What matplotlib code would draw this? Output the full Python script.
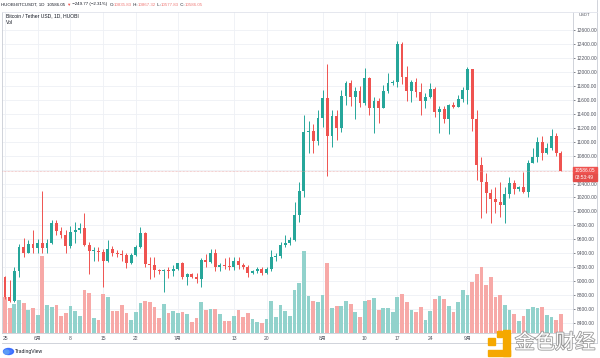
import matplotlib
matplotlib.use("Agg")
import matplotlib.pyplot as plt
import matplotlib.patheffects as pe
from matplotlib.patches import Rectangle, Ellipse
from matplotlib.lines import Line2D
import numpy as np
import pandas as pd

plt.rcParams['font.family'] = ['Liberation Sans', 'DejaVu Sans', 'Noto Sans CJK SC']

# ---------------- data (HUOBI:BTCUSDT, 1D) ----------------
start_date = '2020-05-25'
end_date = '2020-09-21'

opens = [9056, 8779, 8721, 9151, 9495, 9409, 9534, 9481, 9548, 9471,
         9548, 9830, 9720, 9658, 9505, 9706, 9729, 9763, 9519, 9433,
         9440, 9424, 9295, 9457, 9400, 9385, 9371, 9266, 9376, 9495,
         9696, 9247, 9233, 9161, 9147, 9166, 9147, 9170, 9256, 9056,
         9104, 9065, 9036, 9304, 9280, 9399, 9208, 9237, 9218, 9208,
         9289, 9227, 9198, 9122, 9151, 9175, 9112, 9170, 9342, 9361,
         9519, 9543, 9590, 9949, 10297, 11143, 11152, 11009, 11334, 11621,
         11081, 11368, 11200, 11654, 11836, 11645, 11726, 11559, 11907, 11487,
         11583, 11487, 11726, 11845, 11850, 12399, 11931, 11726, 11850, 11716,
         11583, 11645, 11755, 11420, 11468, 11320, 11525, 11501, 11611, 11740,
         12036, 11320, 10665, 10426, 10269, 10173, 10140, 10092, 10250, 10412,
         10317, 10355, 10283, 10689, 10785, 10999, 10842, 10904, 11081, 10836]

closes = [8779, 8721, 9151, 9495, 9409, 9534, 9481, 9548, 9471, 9548,
          9830, 9720, 9658, 9505, 9706, 9729, 9763, 9519, 9433, 9440,
          9424, 9295, 9457, 9400, 9385, 9371, 9266, 9376, 9495, 9696,
          9247, 9233, 9161, 9147, 9166, 9147, 9170, 9256, 9056, 9104,
          9065, 9036, 9304, 9280, 9399, 9208, 9237, 9218, 9208, 9289,
          9227, 9198, 9122, 9151, 9175, 9112, 9170, 9342, 9361, 9519,
          9543, 9590, 9949, 10297, 11143, 11152, 11009, 11334, 11621, 11081,
          11368, 11200, 11654, 11836, 11645, 11726, 11559, 11907, 11487, 11583,
          11487, 11726, 11845, 11850, 12399, 11931, 11726, 11850, 11716, 11583,
          11645, 11755, 11420, 11468, 11320, 11525, 11501, 11611, 11740, 12036,
          11320, 10665, 10426, 10269, 10173, 10140, 10092, 10250, 10412, 10317,
          10355, 10283, 10689, 10785, 10999, 10842, 10904, 11081, 10836, 10586.05]

highs = [9080, 9020, 9209, 9533, 9615, 9590, 9734, 9600, 10298, 9600,
         9877, 9874, 9770, 9734, 9790, 9854, 9830, 9983, 9560, 9490,
         9490, 9457, 9590, 9505, 9447, 9447, 9400, 9400, 9519, 9782,
         9700, 9352, 9342, 9170, 9170, 9209, 9233, 9266, 9280, 9113,
         9122, 9113, 9328, 9390, 9466, 9457, 9256, 9328, 9352, 9342,
         9342, 9256, 9232, 9160, 9208, 9208, 9199, 9447, 9400, 9566,
         9662, 9629, 10140, 10426, 11382, 11301, 11248, 11453, 11740, 12108,
         11453, 11453, 11740, 11874, 11883, 11778, 11797, 12051, 11931, 11645,
         11621, 11812, 11979, 11883, 12442, 12433, 12084, 11883, 11907, 11836,
         11692, 11836, 11788, 11511, 11511, 11540, 11573, 11668, 11778, 12075,
         12036, 11453, 10785, 10546, 10317, 10355, 10426, 10355, 10498, 10450,
         10364, 10570, 10737, 10904, 11062, 11081, 10976, 11176, 11119, 10867.32]

lows = [8740, 8705, 8700, 9056, 9342, 9400, 9400, 9400, 9400, 9400,
        9534, 9663, 9615, 9400, 9481, 9543, 9696, 9505, 9099, 9294,
        9294, 8913, 9280, 9360, 9352, 9294, 9185, 9242, 9362, 9481,
        9209, 9027, 9056, 9099, 8841, 9041, 9075, 9161, 9027, 8946,
        9041, 8979, 8912, 9208, 9266, 9151, 9151, 9175, 9160, 9160,
        9170, 9170, 9055, 9103, 9112, 9089, 9103, 9151, 9294, 9328,
        9495, 9519, 9580, 9853, 10200, 10832, 10832, 10952, 11215, 10508,
        10928, 11024, 11143, 11525, 11511, 11320, 11492, 11525, 11382, 11129,
        11262, 11477, 11692, 11812, 11778, 11826, 11587, 11573, 11645, 11382,
        11477, 11621, 11348, 11119, 11272, 11110, 11477, 11492, 11573, 11540,
        11157, 10450, 9901, 9982, 9829, 9982, 9925, 9839, 10188, 10250,
        10298, 10259, 10211, 10689, 10713, 10737, 10823, 10880, 10794, 10577.83]

# relative volume (no scale shown on the chart)
volumes = [36, 24.7, 29, 33, 29.7, 23, 24.7, 18, 77, 28,
           26, 27.7, 17.3, 19.7, 27.3, 22.3, 17, 43.3, 40.3, 14.7,
           13, 39, 35.7, 22.3, 22.3, 28.3, 20, 13, 21.3, 30,
           32.3, 31.3, 26.3, 14.7, 29, 20.3, 22, 20, 21.3, 19.5,
           10.7, 15.3, 31.3, 23, 24.3, 24.3, 18.7, 12.3, 12, 17,
           22.7, 15.7, 20, 14.3, 11, 10, 13.7, 32, 16.3, 28,
           22, 17.3, 43, 50.3, 82, 37, 32, 31, 38, 69.7,
           24.7, 27, 27, 32.3, 29, 21.3, 16.3, 32, 33, 35.3,
           23, 25.3, 25.3, 21.3, 36.3, 38.7, 31.3, 23, 20.7, 25.7,
           13, 22, 34, 37, 33.7, 27, 21.3, 31.3, 43, 38,
           50.7, 59, 66.3, 48, 56.3, 35.7, 38, 28, 23, 19,
           12, 17, 24, 25.7, 24.7, 26.3, 18, 15.7, 13, 19]

tick_dates = ['2020-05-25', '2020-06-01', '2020-06-08', '2020-06-15', '2020-06-22',
              '2020-07-01', '2020-07-13', '2020-07-20', '2020-08-01', '2020-08-10',
              '2020-08-17', '2020-08-24', '2020-09-01']
tick_labels = ['25', '6月', '8', '15', '22', '7月', '13', '20', '8月', '10', '17', '24', '9月']
price_ticks = [8400, 8600, 8800, 9000, 9200, 9400, 9600, 9800, 10000, 10200, 10400,
               10600, 10800, 11000, 11200, 11400, 11600, 11800, 12000, 12200, 12400, 12600]

last_price = 10586.05
header_parts = [('HUOBI:BTCUSDT, 1D  10586.05 ', '#131722'), ('▼', '#ef5350'),
                (' −249.77 (−2.31%)  ', '#131722'),
                ('O:', '#131722'), ('10835.83', '#ef7a77'), (' H:', '#131722'), ('10867.32', '#ef7a77'),
                (' L:', '#131722'), ('10577.83', '#ef7a77'), (' C:', '#131722'), ('10586.05', '#ef7a77')]

# ---------------- style ----------------
UP = '#26a69a'
DN = '#ef5350'
UP_V = '#92d2cc'
DN_V = '#f7a9a7'
GRID = '#eef0f5'
TXT = '#50535e'
W, H = 600, 358
XLIM = (-0.64, 121.6)
YLIM = (8258, 12858)

dates = pd.date_range(start_date, end_date, freq='D')
x = np.arange(len(dates))
o = np.array(opens, float); c = np.array(closes, float)
h = np.array(highs, float); l = np.array(lows, float)
v = np.array(volumes, float)
up = c >= o

fig = plt.figure(figsize=(6, 3.58), dpi=100)
rect = [2 / W, (H - 333) / H, 571 / W, 321 / H]

ax = fig.add_axes(rect)     # price scale + grid
axv = fig.add_axes(rect)    # volume
axc = fig.add_axes(rect)    # candles
for a, z in ((ax, 1), (axv, 2), (axc, 3)):
    a.set_zorder(z)
axv.axis('off')
axc.axis('off')

ax.set_xlim(*XLIM); ax.set_ylim(*YLIM)
axc.set_xlim(*XLIM); axc.set_ylim(*YLIM)
axv.set_xlim(*XLIM); axv.set_ylim(0, 321)

# grid and ticks
tick_pos = [dates.get_loc(pd.Timestamp(d)) for d in tick_dates]
ax.set_xticks(tick_pos)
ax.set_xticklabels(tick_labels)
ax.set_yticks(price_ticks)
ax.set_yticklabels([f'{p:.2f}' for p in price_ticks])
ax.yaxis.tick_right()
ax.grid(True, color=GRID, lw=0.6)
ax.tick_params(axis='x', labelsize=3.6, colors=TXT, length=0, pad=2.2)
ax.tick_params(axis='y', labelsize=3.5, colors=TXT, length=1.5, width=0.5, pad=1.0)
for s in ax.spines.values():
    s.set_color('#c9ccd4'); s.set_linewidth(0.6)
ax.spines['top'].set_color('#e0e3eb')

# volume
axv.bar(x, v, width=0.8, color=np.where(up, UP_V, DN_V), linewidth=0)

# candles
body_bottom = np.minimum(o, c)
body_h = np.maximum(np.abs(c - o), 14)
col = np.where(up, UP, DN)
axc.vlines(x, l, h, colors=col, lw=0.7)
axc.bar(x, body_h, bottom=body_bottom, width=0.62, color=col, linewidth=0)

# last price line
axc.axhline(last_price, color='#e8a4a3', lw=0.5, ls=(0, (1, 1)))

def fy(py):
    return 1 - py / H

# last price labels on the axis
fig.add_artist(Rectangle((573 / W, fy(174)), 24 / W, 6.5 / H, color=DN, transform=fig.transFigure, zorder=10))
fig.add_artist(Rectangle((573 / W, fy(180.5)), 24 / W, 6.5 / H, color='#e44d4a', transform=fig.transFigure, zorder=10))
fig.text(575 / W, fy(170.7), f'{last_price:.2f}', color='white', fontsize=3.5, va='center', ha='left', zorder=11)
fig.text(575 / W, fy(177.2), '03:53:49', color='white', fontsize=3.5, va='center', ha='left', zorder=11)

# frame lines
fig.add_artist(Line2D([597 / W, 597 / W], [fy(0), fy(343)], color='#c9ccd4', lw=0.6, transform=fig.transFigure))
fig.add_artist(Line2D([2 / W, 597 / W], [fy(343), fy(343)], color='#c9ccd4', lw=0.6, transform=fig.transFigure))
fig.add_artist(Line2D([573 / W, 597 / W], [fy(12), fy(12)], color='#e0e3eb', lw=0.6, transform=fig.transFigure))
fig.text(584 / W, fy(14.5), 'USDT', color=TXT, fontsize=3.0, va='center', ha='center')

# header
renderer = fig.canvas.get_renderer()
xp = 1.0
for s, colr in header_parts:
    t = fig.text(xp / W, fy(4.5), s, color=colr, fontsize=3.2, va='center', ha='left')
    xp += t.get_window_extent(renderer).width

# legend inside chart
fig.text(6 / W, fy(16), 'Bitcoin / Tether USD, 1D, HUOBI', color='#131722', fontsize=3.6, va='center', ha='left')
fig.text(6 / W, fy(23), 'Vol', color='#131722', fontsize=3.6, va='center', ha='left')

# TradingView logo
fig.add_artist(Ellipse((8.5 / W, fy(351.5)), 10 / W, 6 / H, color='#2962ff', transform=fig.transFigure, alpha=0.85))
fig.add_artist(Ellipse((6.5 / W, fy(352)), 5 / W, 4 / H, color='#5b9cf6', transform=fig.transFigure))
fig.text(14.5 / W, fy(351.5), 'TradingView', color='#131722', fontsize=3.6, va='center', ha='left')

# watermark
YEL = '#f5a800'
for (rx, ry, rw, rh) in [(503, 330, 7, 26), (488, 350, 22, 6), (488, 338, 7, 7), (496.5, 331, 5.5, 5.5)]:
    fig.add_artist(Rectangle((rx / W, fy(ry + rh)), rw / W, rh / H, color=YEL, transform=fig.transFigure, zorder=20))
fig.text(555 / W, fy(343), '金色财经', fontsize=14.5, color='white', ha='center', va='center',
         family=['Noto Sans CJK SC'], zorder=21,
         path_effects=[pe.withStroke(linewidth=1.2, foreground='#9a9a9a')])

fig.savefig('out.png', dpi=100)
